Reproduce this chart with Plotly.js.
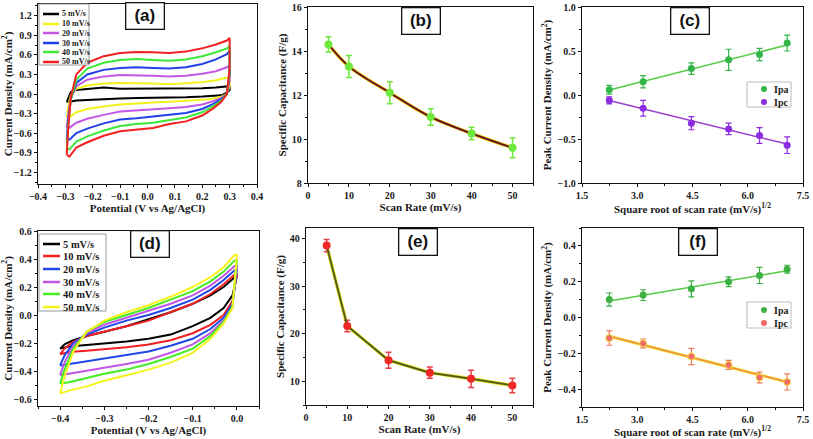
<!DOCTYPE html>
<html><head><meta charset="utf-8">
<script src="https://cdn.plot.ly/plotly-3.0.1.min.js"></script>
<style>html,body{margin:0;padding:0;background:#fff}#chart{width:813px;height:439px}</style>
</head><body><div id="chart"></div>
<script>
// ---------------- DATA ----------------
const scanLabels = ['5 mV/s','10 mV/s','20 mV/s','30 mV/s','40 mV/s','50 mV/s'];

// Panel (a): CV loops (potential V, current mA/cm2)
const cvA_potential = [-0.295,-0.29,-0.28,-0.26,-0.22,-0.16,-0.1,-0.04,0.02,0.08,0.14,0.2,0.25,0.29,0.30,0.30,0.29,0.27,0.24,0.2,0.14,0.08,0.02,-0.04,-0.1,-0.16,-0.22,-0.26,-0.285,-0.295];
const cvA_5  = [-0.12,-0.06,0.03,0.06,0.08,0.10,0.08,0.08,0.08,0.08,0.08,0.09,0.10,0.11,0.12,0.06,0.02,-0.02,-0.03,-0.04,-0.05,-0.05,-0.06,-0.06,-0.07,-0.08,-0.09,-0.10,-0.12,-0.12];
const cvA_10 = [-0.36,-0.2,-0.02,0.08,0.13,0.16,0.17,0.17,0.16,0.15,0.16,0.18,0.21,0.25,0.26,0.12,0.0,-0.04,-0.07,-0.09,-0.11,-0.12,-0.13,-0.14,-0.16,-0.19,-0.23,-0.28,-0.36,-0.35];
const cvA_20 = [-0.52,-0.32,-0.06,0.12,0.22,0.27,0.29,0.29,0.28,0.27,0.28,0.31,0.35,0.41,0.44,0.2,0.0,-0.06,-0.11,-0.16,-0.20,-0.22,-0.24,-0.25,-0.27,-0.32,-0.38,-0.44,-0.52,-0.51];
const cvA_30 = [-0.70,-0.42,-0.08,0.17,0.30,0.37,0.40,0.41,0.40,0.39,0.41,0.46,0.53,0.61,0.66,0.30,0.0,-0.08,-0.15,-0.23,-0.29,-0.32,-0.35,-0.37,-0.39,-0.45,-0.53,-0.60,-0.70,-0.69];
const cvA_40 = [-0.85,-0.5,-0.08,0.22,0.39,0.48,0.52,0.535,0.52,0.51,0.53,0.58,0.64,0.70,0.73,0.35,0.0,-0.10,-0.19,-0.28,-0.36,-0.40,-0.44,-0.46,-0.49,-0.56,-0.65,-0.73,-0.85,-0.84];
const cvA_50 = [-0.93,-0.55,-0.05,0.30,0.48,0.58,0.63,0.645,0.64,0.63,0.65,0.70,0.76,0.82,0.86,0.40,0.0,-0.12,-0.22,-0.33,-0.42,-0.46,-0.52,-0.54,-0.57,-0.64,-0.74,-0.82,-0.96,-0.93];

// Panel (b)
const scanRate = [5,10,20,30,40,50];
const capB = [14.3,13.3,12.1,11.0,10.25,9.6];
const capB_err = [0.35,0.5,0.5,0.37,0.28,0.45];

// Panel (c)
const sqrtScan = [2.24,3.16,4.47,5.48,6.32,7.07];
const ipaC = [0.06,0.15,0.30,0.40,0.46,0.59];
const ipaC_err = [0.05,0.07,0.065,0.12,0.07,0.09];
const ipcC = [-0.06,-0.15,-0.32,-0.385,-0.46,-0.57];
const ipcC_err = [0.04,0.09,0.075,0.065,0.09,0.095];

// Panel (d): CV loops
const cvD_potential = [-0.40,-0.38,-0.34,-0.3,-0.25,-0.2,-0.15,-0.1,-0.06,-0.03,-0.01,0.0,-0.005,-0.03,-0.06,-0.1,-0.15,-0.2,-0.25,-0.3,-0.34,-0.37,-0.39,-0.40];
const cvD_5  = [-0.24,-0.225,-0.215,-0.205,-0.19,-0.17,-0.14,-0.08,-0.02,0.05,0.14,0.28, 0.27,0.20,0.14,0.08,0.02,-0.03,-0.08,-0.12,-0.15,-0.18,-0.21,-0.24];
const cvD_10 = [-0.28,-0.265,-0.255,-0.245,-0.23,-0.21,-0.18,-0.13,-0.07,0.0,0.10,0.29, 0.29,0.22,0.15,0.08,0.02,-0.04,-0.08,-0.12,-0.15,-0.19,-0.24,-0.28];
const cvD_20 = [-0.36,-0.35,-0.33,-0.31,-0.29,-0.26,-0.22,-0.17,-0.10,-0.02,0.08,0.32, 0.32,0.25,0.18,0.11,0.05,0.0,-0.04,-0.09,-0.14,-0.2,-0.29,-0.36];
const cvD_30 = [-0.43,-0.42,-0.40,-0.38,-0.35,-0.32,-0.27,-0.21,-0.13,-0.04,0.06,0.35, 0.35,0.28,0.21,0.14,0.08,0.03,-0.02,-0.07,-0.13,-0.22,-0.34,-0.43];
const cvD_40 = [-0.49,-0.48,-0.45,-0.42,-0.39,-0.35,-0.30,-0.24,-0.15,-0.05,0.06,0.39, 0.39,0.31,0.24,0.17,0.11,0.05,0.0,-0.05,-0.12,-0.24,-0.39,-0.49];
const cvD_50 = [-0.56,-0.54,-0.51,-0.47,-0.43,-0.39,-0.34,-0.27,-0.17,-0.06,0.05,0.43, 0.43,0.34,0.27,0.20,0.13,0.07,0.02,-0.04,-0.12,-0.26,-0.44,-0.56];

// Panel (e)
const capE = [38.5,21.6,14.4,11.8,10.5,9.1];
const capE_err = [1.3,1.2,1.7,1.2,1.8,1.5];

// Panel (f)
const ipaF = [0.10,0.125,0.16,0.20,0.235,0.27];
const ipaF_err = [0.037,0.03,0.045,0.027,0.045,0.022];
const ipcF = [-0.115,-0.145,-0.218,-0.265,-0.335,-0.36];
const ipcF_err = [0.04,0.025,0.045,0.025,0.03,0.045];

const panelLabels = ['(a)','(b)','(c)','(d)','(e)','(f)'];

// ---------------- STYLE ----------------
const W = 813, H = 439;
const px = x => x / W, py = y => 1 - y / H;
const SERIF = 'Liberation Serif';
const colorsA = ['#000000','#f2f21c','#c457e6','#2040e8','#3ee83a','#f22020'];
const colorsD = ['#000000','#f22020','#2048e8','#c057e6','#44ee22','#f4f41e'];

function linfit(x, y) {
  const n = x.length;
  const mx = x.reduce((a,b)=>a+b,0)/n, my = y.reduce((a,b)=>a+b,0)/n;
  let sxy = 0, sxx = 0;
  for (let i=0;i<n;i++){ sxy += (x[i]-mx)*(y[i]-my); sxx += (x[i]-mx)**2; }
  const m = sxy/sxx, b = my - m*mx;
  const xs = [Math.min(...x), Math.max(...x)];
  return {x: xs, y: xs.map(v => m*v + b)};
}

const traces = [];
const cvA = [cvA_5,cvA_10,cvA_20,cvA_30,cvA_40,cvA_50];
cvA.forEach((ys,i)=>traces.push({x:cvA_potential,y:ys,xaxis:'x',yaxis:'y',mode:'lines',line:{color:colorsA[i],width:2},name:scanLabels[i],showlegend:false}));

traces.push({x:scanRate,y:capB,xaxis:'x2',yaxis:'y2',mode:'lines',line:{color:'#f2e020',width:3.5,shape:'spline'},showlegend:false,hoverinfo:'skip'});
traces.push({x:scanRate,y:capB,xaxis:'x2',yaxis:'y2',mode:'lines+markers',line:{color:'#6a1420',width:2,shape:'spline'},
  marker:{color:'#6ee83a',size:8},error_y:{type:'data',array:capB_err,color:'#6ee83a',thickness:1.5,width:3},showlegend:false});

const fA = linfit(sqrtScan, ipaC), fC = linfit(sqrtScan, ipcC);
traces.push({x:fA.x,y:fA.y,xaxis:'x3',yaxis:'y3',mode:'lines',line:{color:'#55cc44',width:1.5},showlegend:false});
traces.push({x:fC.x,y:fC.y,xaxis:'x3',yaxis:'y3',mode:'lines',line:{color:'#9a3fd0',width:1.5},showlegend:false});
traces.push({x:sqrtScan,y:ipaC,xaxis:'x3',yaxis:'y3',mode:'markers',name:'Ipa',marker:{color:'#33b54a',size:7},error_y:{type:'data',array:ipaC_err,color:'#33b54a',thickness:1.2,width:3},showlegend:false});
traces.push({x:sqrtScan,y:ipcC,xaxis:'x3',yaxis:'y3',mode:'markers',name:'Ipc',marker:{color:'#8b2be2',size:7},error_y:{type:'data',array:ipcC_err,color:'#8b2be2',thickness:1.2,width:3},showlegend:false});

const cvD = [cvD_5,cvD_10,cvD_20,cvD_30,cvD_40,cvD_50];
cvD.forEach((ys,i)=>traces.push({x:cvD_potential,y:ys,xaxis:'x4',yaxis:'y4',mode:'lines',line:{color:colorsD[i],width:2},name:scanLabels[i],showlegend:false}));

traces.push({x:scanRate,y:capE,xaxis:'x5',yaxis:'y5',mode:'lines',line:{color:'#f2ea20',width:3.5},showlegend:false,hoverinfo:'skip'});
traces.push({x:scanRate,y:capE,xaxis:'x5',yaxis:'y5',mode:'lines+markers',line:{color:'#4f5d1c',width:2},
  marker:{color:'#f02828',size:8},error_y:{type:'data',array:capE_err,color:'#e8404a',thickness:1.5,width:3},showlegend:false});

const fA2 = linfit(sqrtScan, ipaF), fC2 = linfit(sqrtScan, ipcF);
traces.push({x:fA2.x,y:fA2.y,xaxis:'x6',yaxis:'y6',mode:'lines',line:{color:'#55cc44',width:1.5},showlegend:false});
traces.push({x:fC2.x,y:fC2.y,xaxis:'x6',yaxis:'y6',mode:'lines',line:{color:'#f0e030',width:3},showlegend:false,hoverinfo:'skip'});
traces.push({x:fC2.x,y:fC2.y,xaxis:'x6',yaxis:'y6',mode:'lines',line:{color:'#f08c4a',width:1.5},showlegend:false});
traces.push({x:sqrtScan,y:ipaF,xaxis:'x6',yaxis:'y6',mode:'markers',name:'Ipa',marker:{color:'#3cb043',size:7},error_y:{type:'data',array:ipaF_err,color:'#3cb043',thickness:1.2,width:3},showlegend:false});
traces.push({x:sqrtScan,y:ipcF,xaxis:'x6',yaxis:'y6',mode:'markers',name:'Ipc',marker:{color:'#f06a6a',size:7,line:{color:'#f0e040',width:1}},error_y:{type:'data',array:ipcF_err,color:'#f07a5a',thickness:1.2,width:3},showlegend:false});

function axis(domainPx, range, dtick, minorDtick, title, extra, isY) {
  const d = isY ? [py(domainPx[1]), py(domainPx[0])] : [px(domainPx[0]), px(domainPx[1])];
  return Object.assign({
    domain: d, range: range, dtick: dtick, tick0: 0,
    showline: true, linecolor: '#111', linewidth: 1.3, mirror: true,
    ticks: 'outside', ticklen: 3, tickwidth: 1, tickcolor: '#111',
    minor: {ticks: 'outside', ticklen: 2, dtick: minorDtick, tickcolor: '#111', showgrid: false},
    showgrid: false, zeroline: false,
    tickfont: {family: SERIF, size: 10, color: '#1a1a1a', weight: 'bold'},
    title: {text: title, font: {family: SERIF, size: 11, color: '#1a1a1a', weight: 'bold'}, standoff: 3},
    automargin: false
  }, extra || {});
}

const layout = {
  width: W, height: H, margin: {l:0, r:0, t:0, b:0},
  paper_bgcolor: '#fff', plot_bgcolor: '#fff', showlegend: false,
  xaxis:  axis([38,257], [-0.4,0.4], 0.1, 0.05, 'Potential (V vs Ag/AgCl)', {tickformat:'.1f', anchor:'y'}),
  yaxis:  axis([4,184], [-1.38,1.38], 0.3, 0.15, 'Current Density (mA/cm<sup>2</sup>)', {tickformat:'.1f', anchor:'x'}, true),
  xaxis2: axis([308,533], [0,55], 10, 5, 'Scan Rate (mV/s)', {anchor:'y2'}),
  yaxis2: axis([7,183], [8,16], 2, 1, 'Specific Capacitance (F/g)', {anchor:'x2'}, true),
  xaxis3: axis([582,803], [1.5,7.5], 1.5, 0.75, 'Square root of scan rate (mV/s)<sup>1/2</sup>', {tickformat:'.1f', anchor:'y3'}),
  yaxis3: axis([7,183], [-1,1], 0.5, 0.25, 'Peak Current Density (mA/cm<sup>2</sup>)', {tickformat:'.1f', anchor:'x3'}, true),
  xaxis4: axis([38,259], [-0.45,0.05], 0.1, 0.05, 'Potential (V vs Ag/AgCl)', {tickformat:'.1f', anchor:'y4'}),
  yaxis4: axis([231,406], [-0.65,0.6], 0.2, 0.1, 'Current Density (mA/cm<sup>2</sup>)', {tickformat:'.1f', anchor:'x4'}, true),
  xaxis5: axis([306,533], [0,55], 10, 5, 'Scan Rate (mV/s)', {anchor:'y5'}),
  yaxis5: axis([228,405], [5,42.2], 10, 5, 'Specific Capacitance (F/g)', {anchor:'x5'}, true),
  xaxis6: axis([582,803], [1.5,7.5], 1.5, 0.75, 'Square root of scan rate (mV/s)<sup>1/2</sup>', {tickformat:'.1f', anchor:'y6'}),
  yaxis6: axis([228,407], [-0.5,0.5], 0.2, 0.1, 'Peak Current Density (mA/cm<sup>2</sup>)', {tickformat:'.1f', anchor:'x6'}, true),
  shapes: [], annotations: []
};

// panel labels
const labelPos = [[145,16],[421,21],[690,21],[150,244],[418,242],[698,242]];
panelLabels.forEach((t,i)=>layout.annotations.push({
  text: t, xref:'paper', yref:'paper', x: px(labelPos[i][0]), y: py(labelPos[i][1]),
  xanchor:'center', yanchor:'middle', showarrow:false,
  font:{family:'Liberation Sans', size:17, color:'#111', weight:'bold'},
  bordercolor:'#111', borderwidth:1.3, borderpad:3, bgcolor:'#fff', width:31, height:19
}));

// legend (a) and (d): line samples
function lineLegend(box, rows, x0, x1, tx, colors, fontSize) {
  layout.shapes.push({type:'rect',xref:'paper',yref:'paper',x0:px(box[0]),x1:px(box[1]),y0:py(box[3]),y1:py(box[2]),line:{color:'#999',width:1},fillcolor:'#fff',layer:'above'});
  scanLabels.forEach((lab,i)=>{
    layout.shapes.push({type:'line',xref:'paper',yref:'paper',x0:px(x0),x1:px(x1),y0:py(rows[i]),y1:py(rows[i]),line:{color:colors[i],width:2.5},layer:'above'});
    layout.annotations.push({text:lab,xref:'paper',yref:'paper',x:px(tx),y:py(rows[i]),xanchor:'left',yanchor:'middle',showarrow:false,
      font:{family:SERIF,size:fontSize,color:'#1a1a1a',weight:'bold'}});
  });
}
lineLegend([39,89,4,65],[14,24,33,43,52,62],43,59,60,colorsA,8);
lineLegend([39,106,234,311],[244,256,269,282,294,307],43,60,61,colorsD,10.5);

// legend (c) and (f): markers
function markerLegend(box, rows, mx, tx, cols, labels) {
  layout.shapes.push({type:'rect',xref:'paper',yref:'paper',x0:px(box[0]),x1:px(box[1]),y0:py(box[3]),y1:py(box[2]),line:{color:'#bbb',width:1},fillcolor:'rgba(0,0,0,0)'});
  labels.forEach((lab,i)=>{
    layout.shapes.push({type:'circle',xref:'paper',yref:'paper',xsizemode:'pixel',ysizemode:'pixel',xanchor:px(mx),yanchor:py(rows[i]),
      x0:-3,x1:3,y0:-3,y1:3,fillcolor:cols[i],line:{color:cols[i],width:0}});
    layout.annotations.push({text:lab,xref:'paper',yref:'paper',x:px(tx),y:py(rows[i]),xanchor:'left',yanchor:'middle',showarrow:false,
      font:{family:SERIF,size:10,color:'#1a1a1a',weight:'bold'}});
  });
}
markerLegend([747,791,82,107],[89,102],764,772,['#33b54a','#8b2be2'],['Ipa','Ipc']);
markerLegend([747,791,302,328],[310,323],764,772,['#3cb043','#f06a6a'],['Ipa','Ipc']);

Plotly.newPlot('chart', traces, layout, {staticPlot:true, displayModeBar:false});
</script></body></html>
